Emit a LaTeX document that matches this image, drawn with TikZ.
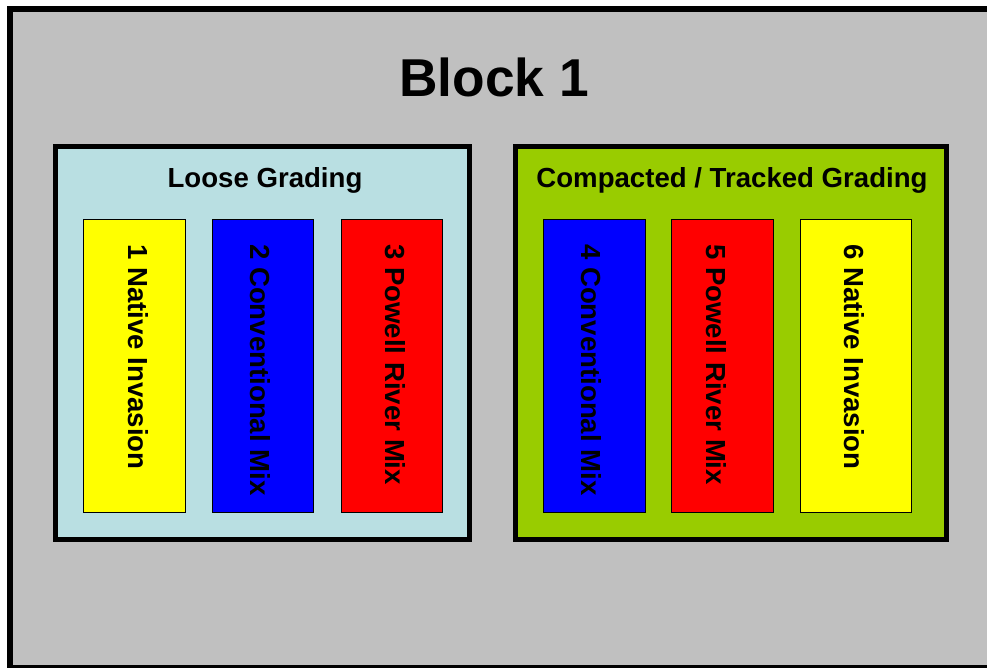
\documentclass[tikz,border=0pt]{standalone}
\usepackage{fontspec}
\setmainfont{Liberation Sans}
\definecolor{bggray}{HTML}{C0C0C0}
\definecolor{loosefill}{HTML}{B9DFE2}
\definecolor{compfill}{HTML}{99CC00}
\definecolor{pyellow}{HTML}{FFFF00}
\definecolor{pblue}{HTML}{0000FF}
\definecolor{pred}{HTML}{FF0000}
\tikzset{
  panel/.style={draw=black, line width=5pt, inner sep=0pt, outer sep=0pt, minimum height=393pt},
  plot/.style={draw=black, line width=1pt, inner sep=0pt, outer sep=0pt, minimum height=293pt},
  plotlabel/.style={rotate=-90, anchor=base west, inner sep=0pt, font=\fontsize{27.6}{33}\selectfont\bfseries},
  paneltitle/.style={anchor=base, inner sep=0pt, font=\fontsize{27.6}{33}\selectfont\bfseries},
  blocktitle/.style={anchor=base, inner sep=0pt, font=\fontsize{53.3}{64}\selectfont\bfseries}
}
\begin{document}
\begin{tikzpicture}[x=1pt,y=-1pt]
\useasboundingbox (0,0) rectangle (987,667);
\clip (0,0) rectangle (987,667);
\draw[line width=6pt, fill=bggray] (10,9) rectangle (1000,668);
\node[blocktitle] (title) at (494,96) {Block 1};
% panels
\node[panel, fill=loosefill, minimum width=414pt] (loose) at (262.5,343) {};
\node[panel, fill=compfill, minimum width=431pt] (comp) at (731,343) {};
\node[paneltitle] (looset) at (265,187) {Loose Grading};
\node[paneltitle] (compt) at (732,187) {Compacted / Tracked Grading};
% plots
\node[plot, fill=pyellow, minimum width=102pt] (p1) at (134,365.5) {};
\node[plot, fill=pblue, minimum width=101pt] (p2) at (262.5,365.5) {};
\node[plot, fill=pred, minimum width=101pt] (p3) at (391.5,365.5) {};
\node[plot, fill=pblue, minimum width=102pt] (p4) at (594,365.5) {};
\node[plot, fill=pred, minimum width=102pt] (p5) at (722,365.5) {};
\node[plot, fill=pyellow, minimum width=111pt] (p6) at (855.5,365.5) {};
\node[plotlabel] (l1) at (128,244) {1 Native Invasion};
\node[plotlabel] (l2) at (250.7,244) {2 Conventional Mix};
\node[plotlabel] (l3) at (385,244) {3 Powell River Mix};
\node[plotlabel] (l4) at (581.7,244) {4 Conventional Mix};
\node[plotlabel] (l5) at (706.7,244) {5 Powell River Mix};
\node[plotlabel] (l6) at (844,244) {6 Native Invasion};
\end{tikzpicture}
\end{document}
